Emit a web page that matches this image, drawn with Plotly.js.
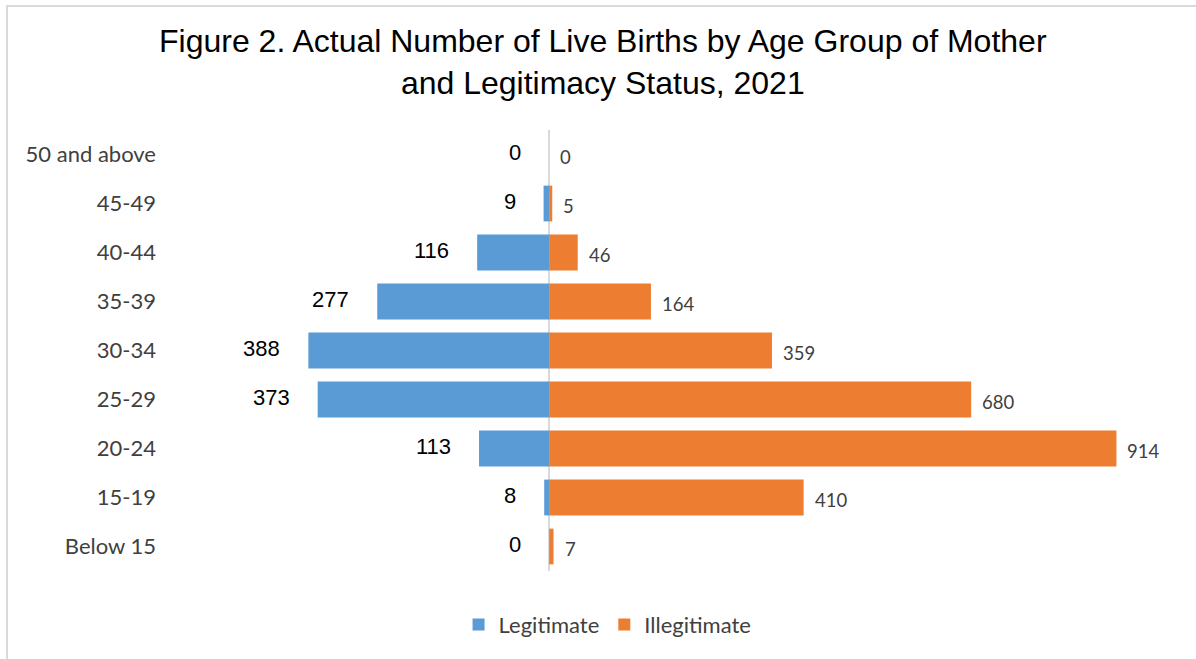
<!DOCTYPE html>
<html>
<head>
<meta charset="utf-8">
<script src="https://cdn.plot.ly/plotly-3.0.1.min.js"></script>
<style>
  html, body { margin: 0; padding: 0; background: #fff; }
  #wrap { position: relative; width: 1196px; height: 659px; }
  #chart { position: absolute; left: 0; top: 0; width: 1196px; height: 659px; }
  #frame { position: absolute; left: 6px; top: 5px; right: 0; bottom: 0;
           border-top: 2px solid #d9d9d9; border-left: 2px solid #d9d9d9; pointer-events: none; }
</style>
</head>
<body>
<div id="wrap">
  <div id="chart"></div>
  <div id="frame"></div>
</div>
<script>
// Data (bottom to top)
const ageGroups = ['Below 15', '15-19', '20-24', '25-29', '30-34', '35-39', '40-44', '45-49', '50 and above'];
const legitimate = [0, 8, 113, 373, 388, 277, 116, 9, 0];
const illegitimate = [7, 410, 914, 680, 359, 164, 46, 5, 0];
const seriesNames = ['Legitimate', 'Illegitimate'];
const titleText = 'Figure 2. Actual Number of Live Births by Age Group of Mother<br>and Legitimacy Status, 2021';

const blue = '#5B9BD5';
const orange = '#ED7D31';

const traces = [
  {
    type: 'bar', orientation: 'h', name: seriesNames[0],
    y: ageGroups, x: legitimate.map(v => -v),
    marker: { color: blue }, hoverinfo: 'skip'
  },
  {
    type: 'bar', orientation: 'h', name: seriesNames[1],
    y: ageGroups, x: illegitimate,
    marker: { color: orange }, hoverinfo: 'skip'
  }
];

const annotations = [];
ageGroups.forEach((g, i) => {
  annotations.push({
    x: -legitimate[i], y: g, xref: 'x', yref: 'y',
    text: String(legitimate[i]), showarrow: false,
    xanchor: 'right', yanchor: 'middle', xshift: -26, yshift: 2,
    font: { family: 'Liberation Sans, Arial, sans-serif', size: 22, color: '#000000' }
  });
  annotations.push({
    x: illegitimate[i], y: g, xref: 'x', yref: 'y',
    text: String(illegitimate[i]), showarrow: false,
    xanchor: 'left', yanchor: 'middle', xshift: 9, yshift: -2,
    font: { family: 'Lato, Carlito, sans-serif', size: 18.5, color: '#404040' }
  });
});

const layout = {
  width: 1196, height: 659,
  margin: { l: 165, r: 20, t: 130, b: 88 },
  paper_bgcolor: '#ffffff', plot_bgcolor: '#ffffff',
  barmode: 'relative', bargap: 0.27,
  title: {
    text: titleText, xref: 'container', yref: 'container',
    x: 0.504, y: 0.921, xanchor: 'center', yanchor: 'middle',
    font: { family: 'Liberation Sans, Arial, sans-serif', size: 32, color: '#000000' }
  },
  xaxis: {
    range: [-619, 1010], showticklabels: false, showgrid: false,
    zeroline: true, zerolinecolor: '#d9d9d9', zerolinewidth: 1.5,
    showline: false, ticks: '', fixedrange: true
  },
  yaxis: {
    type: 'category', categoryorder: 'array', categoryarray: ageGroups,
    showgrid: false, zeroline: false, showline: false, ticks: '',
    ticklabelstandoff: 8,
    tickfont: { family: 'Lato, Carlito, sans-serif', size: 22, color: '#404040' },
    fixedrange: true
  },
  showlegend: true,
  legend: {
    orientation: 'h', xref: 'container', yref: 'container',
    x: 0.508, y: 0.052, xanchor: 'center', yanchor: 'middle',
    font: { family: 'Lato, Carlito, sans-serif', size: 22, color: '#404040' },
    itemwidth: 30, traceorder: 'normal'
  },
  annotations: annotations
};

Plotly.newPlot('chart', traces, layout, { displayModeBar: false, staticPlot: true });
</script>
</body>
</html>
